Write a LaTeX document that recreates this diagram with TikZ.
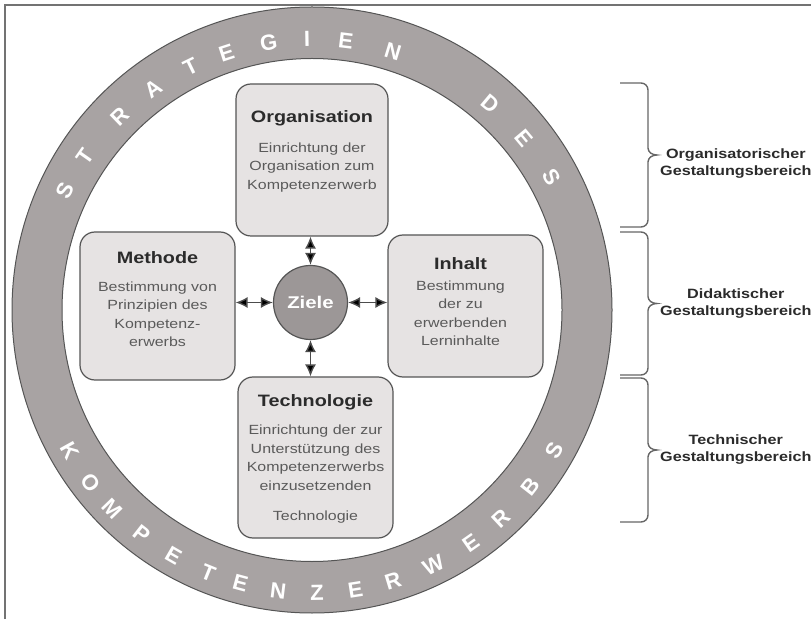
\documentclass[tikz,border=0pt]{standalone}
\usepackage{fontspec}
\setmainfont{Liberation Sans}[FakeStretch=1.2]
\newfontfamily\ringfont{Liberation Sans}
\usetikzlibrary{arrows.meta,positioning}
\definecolor{ringgray}{HTML}{A8A3A3}
\definecolor{boxgray}{HTML}{E6E3E3}
\definecolor{zielgray}{HTML}{9C9797}
\definecolor{edgegray}{HTML}{555555}
\definecolor{textgray}{HTML}{5A5A5A}
\definecolor{titlegray}{HTML}{2B2B2B}

\begin{document}
\begin{tikzpicture}[x=1pt,y=1pt,
  box/.style={draw=edgegray, line width=1.2pt, fill=boxgray, rounded corners=15pt, inner sep=0pt},
  boxtitle/.style={font=\fontsize{16.5}{19}\selectfont\bfseries, text=titlegray},
  boxtext/.style={font=\fontsize{13.3}{18.5}\selectfont, text=textgray, align=center},
  ringletter/.style={font=\ringfont\fontsize{22}{22}\selectfont\bfseries, text=white, inner sep=0pt},
  link/.style={{Latex[length=12pt,width=11pt,fill=black]}-{Latex[length=12pt,width=11pt,fill=black]}, line width=1.4pt, draw=black!70},
  bracket/.style={draw=black!60, line width=1.4pt},
  area/.style={font=\fontsize{13.5}{17}\selectfont\bfseries, text=titlegray, align=center, inner sep=0pt}]
  \useasboundingbox (0,0) rectangle (811,619);
  \draw[black!55, line width=1.5pt] (5,0) -- (5,614) -- (811,614);

  \fill[ringgray, even odd rule] (312,309) ellipse (300 and 303) (312,309) ellipse (250 and 251.5);
  \draw[edgegray, line width=1pt] (312,309) ellipse (300 and 303) (312,309) ellipse (250 and 251.5);

  \coordinate (lc) at (312,303);
  \foreach \ch/\a [count=\i] in {S/153,T/145,R/134,A/125,T/116,E/108,G/99,I/91,E/83,N/73,D/50,E/40,S/30}
    \node[ringletter, rotate=\a-90] (top\i) at ([shift={(\a:277)}]lc) {\ch};
  \foreach \ch/\a [count=\i] in {K/209,O/217,M/224,P/232,E/240,T/248,E/255,N/263,Z/271,E/279,R/287,W/296,E/305,R/313,B/322,S/331}
    \node[ringletter, rotate=\a+90] (bot\i) at ([shift={(\a:277)}]lc) {\ch};

  \node[box, minimum width=152pt, minimum height=152pt] (org) at (312,459) {};
  \node[box, minimum width=155pt, minimum height=148pt] (met) at (157.5,313) {};
  \node[box, minimum width=155pt, minimum height=142pt] (inh) at (465.5,313) {};
  \node[box, minimum width=155pt, minimum height=161pt] (tec) at (315.5,161.5) {};
  \node[circle, draw=edgegray, line width=1.2pt, fill=zielgray, minimum size=74pt, inner sep=0pt,
    font=\fontsize{17}{17}\selectfont\bfseries, text=white] (zl) at (310.5,316.5) {Ziele};

  \node[boxtitle] (org-t) at ([yshift=-35]org.north) {Organisation};
  \node[boxtext] (org-b) at ([yshift=-84]org.north) {Einrichtung der\\Organisation zum\\Kompetenzerwerb};
  \node[boxtitle] (met-t) at ([yshift=-26]met.north) {Methode};
  \node[boxtext] (met-b) at ([yshift=-83]met.north) {Bestimmung von\\Prinzipien des\\Kompetenz-\\erwerbs};
  \node[boxtitle] (inh-t) at ([xshift=-5,yshift=-29]inh.north) {Inhalt};
  \node[boxtext] (inh-b) at ([xshift=-5,yshift=-79]inh.north) {Bestimmung\\der zu\\erwerbenden\\Lerninhalte};
  \node[boxtitle] (tec-t) at ([yshift=-26]tec.north) {Technologie};
  \node[boxtext] (tec-b) at ([yshift=-98]tec.north) {Einrichtung der zur\\Unterstützung des\\Kompetenzerwerbs\\einzusetzenden\\[12pt]Technologie};

  \draw[link] (org.south -| zl.north) -- (zl.north);
  \draw[link] (zl.south) -- (zl.south |- tec.north);
  \draw[link] (met.east |- zl.west) -- (zl.west);
  \draw[link] (zl.east) -- (zl.east -| inh.west);

  \foreach \t/\b/\lbl/\dy [count=\n] in {536/392/Organisatorischer/-9, 387/244/Didaktischer/0, 241/97/Technischer/0} {
    \pgfmathsetmacro\m{(\t+\b)/2}
    \draw[bracket] (620,\t) -- (641,\t) to[out=0,in=90] (648,\t-7) -- (648,\m+7)
      to[out=-90,in=180] (657,\m) to[out=180,in=90] (648,\m-7) -- (648,\b+7)
      to[out=-90,in=0] (641,\b) -- (620,\b);
    \coordinate (tip\n) at (657,\m);
    \node[area, right=3pt of tip\n, yshift=\dy] (area\n) {\lbl\\Gestaltungsbereich};
  }
\end{tikzpicture}
\end{document}
